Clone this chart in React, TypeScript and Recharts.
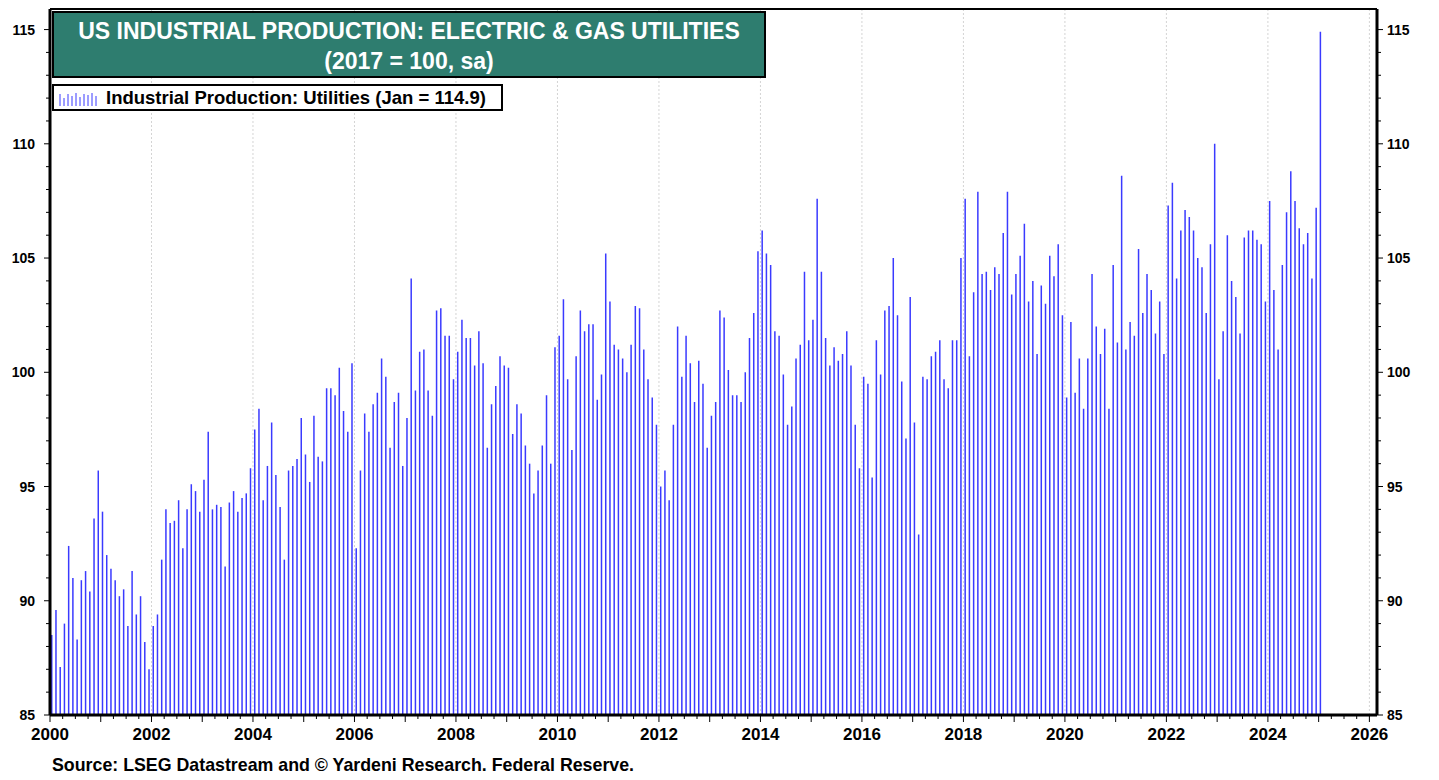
import React from 'react';
import { ComposedChart, Bar, XAxis, YAxis, CartesianGrid, ReferenceLine } from 'recharts';

// monthly index, 2017 = 100, Jan 2000 .. Jan 2025
const startYear = 2000;
const ipUtilities = [
  88.5, 89.6, 87.1, 89.0, 92.4, 91.0, 88.3, 90.9, 91.3, 90.4, 93.6, 95.7, // 2000
  93.9, 92.0, 91.4, 90.9, 90.2, 90.5, 88.9, 91.3, 89.4, 90.2, 88.2, 87.0, // 2001
  88.9, 89.4, 91.8, 94.0, 93.4, 93.5, 94.4, 92.3, 94.0, 95.1, 94.8, 93.9, // 2002
  95.3, 97.4, 94.0, 94.2, 94.1, 91.5, 94.3, 94.8, 93.9, 94.5, 94.7, 95.8, // 2003
  97.5, 98.4, 94.4, 95.9, 97.8, 95.5, 94.1, 91.8, 95.7, 95.9, 96.2, 98.0, // 2004
  96.4, 95.2, 98.1, 96.3, 96.1, 99.3, 99.3, 99.0, 100.2, 98.3, 97.4, 100.4, // 2005
  92.3, 95.7, 98.2, 97.4, 98.6, 99.1, 100.6, 99.8, 96.7, 98.7, 99.1, 95.9, // 2006
  98.0, 104.1, 99.2, 100.9, 101.0, 99.2, 98.1, 102.7, 102.8, 101.6, 101.6, 99.7, // 2007
  100.9, 102.3, 101.5, 101.5, 100.3, 101.8, 100.4, 96.7, 98.6, 99.4, 100.7, 100.3, // 2008
  100.2, 97.3, 98.6, 98.2, 96.8, 96.0, 94.7, 95.7, 96.8, 99.0, 96.0, 101.1, // 2009
  101.6, 103.2, 99.7, 96.6, 100.7, 102.7, 101.8, 102.1, 102.1, 98.8, 99.9, 105.2, // 2010
  103.1, 101.2, 101.0, 100.6, 100.0, 101.2, 102.9, 102.8, 101.0, 99.7, 98.9, 97.7, // 2011
  95.0, 95.7, 94.4, 97.7, 102.0, 99.8, 101.6, 100.4, 98.7, 100.5, 99.5, 96.7, // 2012
  98.1, 98.7, 102.7, 102.4, 100.1, 99.0, 99.0, 98.7, 100.0, 101.5, 102.6, 105.3, // 2013
  106.2, 105.2, 104.7, 101.8, 101.6, 99.9, 97.7, 98.5, 100.6, 101.2, 104.4, 101.4, // 2014
  102.3, 107.6, 104.4, 101.5, 100.3, 101.1, 100.5, 100.8, 101.8, 100.3, 97.7, 95.8, // 2015
  99.8, 99.5, 95.4, 101.4, 99.9, 102.7, 102.9, 105.0, 102.5, 99.6, 97.1, 103.3, // 2016
  97.8, 92.9, 99.8, 99.7, 100.7, 100.9, 101.4, 99.7, 99.3, 101.4, 101.4, 105.0, // 2017
  107.6, 100.7, 103.5, 107.9, 104.3, 104.4, 103.6, 104.6, 104.3, 106.1, 107.9, 103.4, // 2018
  104.3, 105.1, 106.5, 103.1, 104.0, 100.8, 103.8, 103.0, 105.1, 104.2, 105.6, 102.5, // 2019
  98.9, 102.2, 99.1, 100.6, 98.4, 100.6, 104.3, 102.0, 100.8, 101.9, 98.4, 104.7, // 2020
  101.3, 108.6, 101.0, 102.2, 101.6, 105.4, 102.6, 104.3, 103.6, 101.7, 103.1, 100.8, // 2021
  107.3, 108.3, 104.1, 106.2, 107.1, 106.8, 106.2, 105.0, 104.6, 102.6, 105.6, 110.0, // 2022
  99.7, 101.8, 106.0, 104.0, 103.3, 101.7, 105.9, 106.2, 106.2, 105.8, 105.6, 103.1, // 2023
  107.5, 103.6, 101.0, 104.7, 107.0, 108.8, 107.5, 106.3, 105.6, 106.1, 104.1, 107.2, // 2024
  114.9, // 2025
];

const xMajor = [2000, 2002, 2004, 2006, 2008, 2010, 2012, 2014, 2016, 2018, 2020, 2022, 2024, 2026];
const yMajor = [85, 90, 95, 100, 105, 110, 115];

const xDomain = [2000, 2026.15];
const yDomain = [85, 115.9];

const data = ipUtilities.map((v, i) => ({ t: startYear + (i + 0.5) / 12, ip: v }));

// quarter ticks on x, unit ticks on y
const xTicks: number[] = [];
for (let q = 0; q <= 26 * 4; q++) xTicks.push(2000 + q / 4);
const yTicks: number[] = [];
for (let v = 85; v <= 115; v++) yTicks.push(v);

const font = '"Liberation Sans", Arial, sans-serif';
const barColor = '#3a3aff';

const XTick = (props: any) => {
  const { x, y, payload } = props;
  const v = payload.value;
  const isYear = Math.abs(v - Math.round(v)) < 1e-6;
  const labelled = isYear && Math.round(v) % 2 === 0;
  return (
    <g>
      <line x1={x} x2={x} y1={y} y2={y + (isYear ? 7 : 4)} stroke="#000" strokeWidth={1} />
      {labelled && (
        <text x={x} y={y + 25} textAnchor="middle" fontFamily={font} fontWeight="bold" fontSize={17} fill="#000">
          {Math.round(v)}
        </text>
      )}
    </g>
  );
};

const YTick = (props: any) => {
  const { x, y, payload, side } = props;
  const v = payload.value;
  const major = v % 5 === 0;
  const dir = side === 'left' ? -1 : 1;
  return (
    <g>
      <line x1={x} x2={x + dir * (major ? 6 : 4)} y1={y} y2={y} stroke="#000" strokeWidth={1} />
      {major && (
        <text
          x={x + dir * (side === 'left' ? 15 : 10)}
          y={y + 5}
          textAnchor={side === 'left' ? 'end' : 'start'}
          fontFamily={font}
          fontWeight="bold"
          fontSize={14}
          fill="#000"
        >
          {v}
        </text>
      )}
    </g>
  );
};

const LegendIcon = () => {
  const hs = [12, 8, 12, 10, 13, 9, 12, 11, 13, 10];
  return (
    <svg width={42} height={16} style={{ display: 'block' }}>
      {hs.map((h, i) => (
        <line key={i} x1={2 + i * 4} x2={2 + i * 4} y1={16} y2={16 - h} stroke={barColor} strokeWidth={1} />
      ))}
    </svg>
  );
};

export default function App() {
  return (
    <div style={{ position: 'absolute', left: 0, top: 0, width: 1439, height: 780, background: '#fff', fontFamily: font }}>
      <ComposedChart
        width={1439}
        height={780}
        data={data}
        margin={{ top: 9, right: 12, bottom: 35, left: 0 }}
        barCategoryGap={0}
      >
        <CartesianGrid
          stroke="#d4d4d4"
          strokeDasharray="2 2"
          horizontalValues={yMajor}
          verticalValues={xMajor}
        />
        <XAxis
          dataKey="t"
          type="number"
          domain={xDomain}
          ticks={xTicks}
          interval={0}
          height={30}
          tickSize={0}
          tickMargin={0}
          tickLine={false}
          tick={<XTick />}
          axisLine={{ stroke: '#000', strokeWidth: 3 }}
        />
        <YAxis
          yAxisId="left"
          orientation="left"
          width={50}
          domain={yDomain}
          ticks={yTicks}
          interval={0}
          tickSize={0}
          tickMargin={0}
          tickLine={false}
          tick={<YTick side="left" />}
          axisLine={{ stroke: '#000', strokeWidth: 3 }}
          allowDataOverflow
        />
        <YAxis
          yAxisId="right"
          orientation="right"
          width={50}
          domain={yDomain}
          ticks={yTicks}
          interval={0}
          tickSize={0}
          tickMargin={0}
          tickLine={false}
          tick={<YTick side="right" />}
          axisLine={{ stroke: '#000', strokeWidth: 3 }}
          allowDataOverflow
        />
        <ReferenceLine yAxisId="left" y={yDomain[1]} stroke="#000" strokeWidth={2} />
        <Bar yAxisId="left" dataKey="ip" fill={barColor} barSize={1.5} isAnimationActive={false} />
      </ComposedChart>

      <div
        style={{
          position: 'absolute',
          left: 52,
          top: 11,
          width: 714,
          height: 67,
          boxSizing: 'border-box',
          background: '#2e7d6f',
          border: '2px solid #000',
          color: '#fff',
          fontWeight: 'bold',
          fontSize: 23,
          textAlign: 'center',
          lineHeight: '30px',
          paddingTop: 3,
        }}
      >
        <div>US INDUSTRIAL PRODUCTION: ELECTRIC &amp; GAS UTILITIES</div>
        <div>(2017 = 100, sa)</div>
      </div>

      <div
        style={{
          position: 'absolute',
          left: 52,
          top: 84,
          width: 451,
          height: 27,
          boxSizing: 'border-box',
          background: '#fff',
          border: '2px solid #000',
          display: 'flex',
          alignItems: 'center',
        }}
      >
        <div style={{ marginLeft: 4, marginRight: 6 }}>
          <LegendIcon />
        </div>
        <span style={{ fontWeight: 'bold', fontSize: 18.5, color: '#000' }}>Industrial Production: Utilities (Jan = 114.9)</span>
      </div>

      <div style={{ position: 'absolute', left: 52, top: 755, fontWeight: 'bold', fontSize: 17.8, color: '#000' }}>
        Source: LSEG Datastream and © Yardeni Research. Federal Reserve.
      </div>
    </div>
  );
}
